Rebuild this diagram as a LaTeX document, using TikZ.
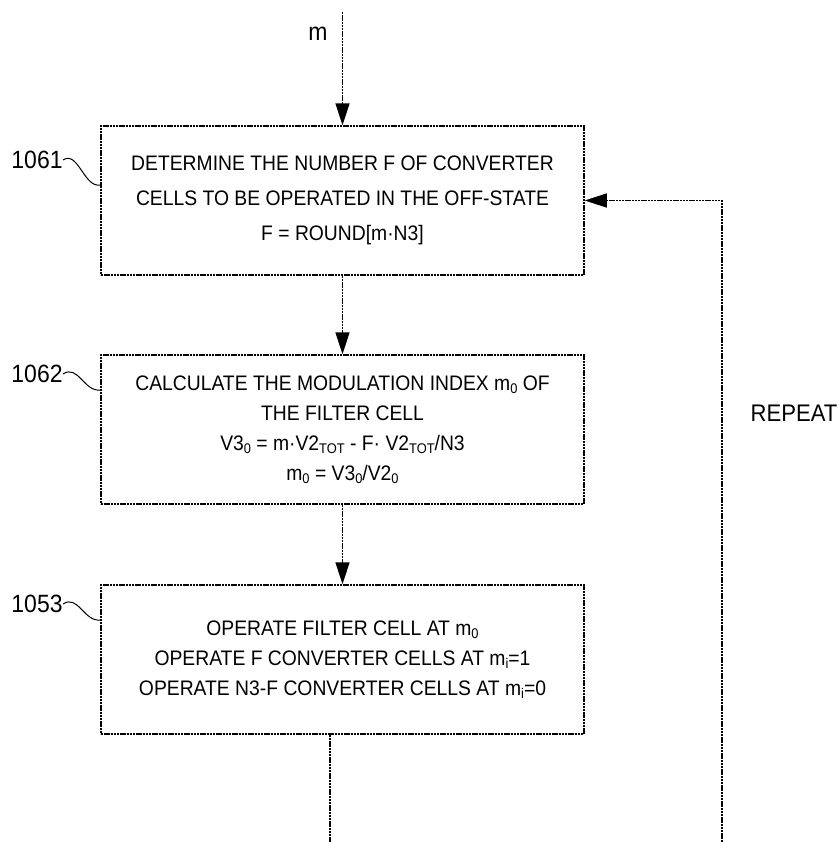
\documentclass[tikz,border=0pt]{standalone}
\usepackage{fontspec}
\setmainfont{Liberation Sans}[FakeStretch=0.92]
\usetikzlibrary{arrows.meta}
\newcommand{\lsub}[1]{\raisebox{-0.3ex}{\fontsize{7}{7}\selectfont #1}}
\tikzset{
  box/.style={draw, line width=0.75pt, dash pattern=on 1.2pt off 0.4pt, minimum width=241.5pt, minimum height=74.5pt, inner sep=0pt, align=center, font=\fontsize{10.5}{15}\selectfont},
  conn/.style={line width=0.75pt, dash pattern=on 1.2pt off 0.4pt},
  arr/.style={conn, -{Triangle[length=11pt,width=7pt]}},
  lbl/.style={font=\fontsize{12.5}{14}\selectfont, inner sep=0pt},
  lead/.style={line width=0.5pt}
}
\begin{document}
\begin{tikzpicture}[x=0.5pt,y=-0.5pt]
\useasboundingbox (0,0) rectangle (839,842);
\node[box, font=\fontsize{10.5}{17.5}\selectfont] (b1) at (342.5,200.5) {DETERMINE THE NUMBER F OF CONVERTER\\CELLS TO BE OPERATED IN THE OFF-STATE\\F = ROUND[m·N3]};
\node[box] (b2) at (342.5,429.5) {CALCULATE THE MODULATION INDEX m\lsub{0} OF\\THE FILTER CELL\\V3\lsub{0} = m·V2\lsub{TOT} - F· V2\lsub{TOT}/N3\\m\lsub{0} = V3\lsub{0}/V2\lsub{0}};
\node[box] (b3) at (342.5,659.5) {OPERATE FILTER CELL AT m\lsub{0}\\OPERATE F CONVERTER CELLS AT m\lsub{i}=1\\OPERATE N3-F CONVERTER CELLS AT m\lsub{i}=0};
\coordinate (in) at (342.5,12);
\coordinate (out) at (330,842);
\coordinate (ret) at (722,842);
\node[lbl] (m) at (318,34) {m};
\draw[arr] (in) -- (b1.north);
\draw[arr] (b1.south) -- (b2.north);
\draw[arr] (b2.south) -- (b3.north);
\draw[conn] (b3.south -| out) -- (out);
\draw[arr] (ret) |- (b1.east);
\node[lbl, font=\fontsize{12}{14}\selectfont] (rep) at (794,413) {REPEAT};
\node[lbl, anchor=east] (l1) at (63,160) {1061};
\node[lbl, anchor=east] (l2) at (63,374) {1062};
\node[lbl, anchor=east] (l3) at (63,604) {1053};
\draw[lead] (l1.east) .. controls (78,150) and (84,188) .. (b1.west |- 0,185);
\draw[lead] (l2.east) .. controls (78,364) and (84,392) .. (b2.west |- 0,390);
\draw[lead] (l3.east) .. controls (78,594) and (84,622) .. (b3.west |- 0,620);
\end{tikzpicture}
\end{document}
